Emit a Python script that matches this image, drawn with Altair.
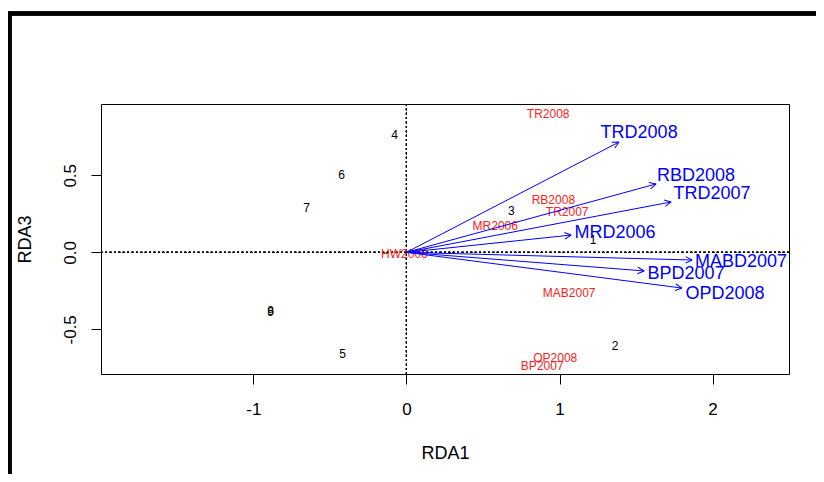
import math
import altair as alt
import pandas as pd

# ---- data ----
sites = ["1", "2", "3", "4", "5", "6", "7", "8", "9"]
site_x = [1.22, 1.363, 0.685, -0.078, -0.417, -0.424, -0.652, -0.887, -0.887]
site_y = [0.08, -0.61, 0.268, 0.762, -0.66, 0.50, 0.288, -0.38, -0.385]

species = ["TR2008", "RB2008", "TR2007", "MR2006", "HW2006", "MAB2007", "OP2008", "BP2007"]
species_x = [0.926, 0.96, 1.05, 0.58, -0.013, 1.063, 0.972, 0.887]
species_y = [0.896, 0.34, 0.264, 0.171, -0.011, -0.262, -0.684, -0.736]

env = ["TRD2008", "RBD2008", "TRD2007", "MRD2006", "MABD2007", "BPD2007", "OPD2008"]
env_x = [1.389, 1.631, 1.729, 1.076, 1.866, 1.553, 1.800]
env_y = [0.716, 0.444, 0.327, 0.112, -0.050, -0.121, -0.232]
env_label_x = [1.52, 1.892, 1.996, 1.363, 2.185, 1.827, 2.081]
env_label_y = [0.774, 0.495, 0.379, 0.125, -0.063, -0.141, -0.271]

x_ticks = [-1, 0, 1, 2]
y_ticks = [-0.5, 0.0, 0.5]
x_domain = [-1.995, 2.499]
y_domain = [-0.790, 0.963]

FONT = "Liberation Sans"
BLUE = "#0000FF"
RED = "#FF2020"

sites_df = pd.DataFrame({"label": sites, "x": site_x, "y": site_y})
species_df = pd.DataFrame({"label": species, "x": species_x, "y": species_y})
env_df = pd.DataFrame({
    "label": env, "x": env_x, "y": env_y,
    "lx": env_label_x, "ly": env_label_y,
    "x0": [0.0] * len(env), "y0": [0.0] * len(env),
})
env_df["angle"] = [(-math.degrees(math.atan2(b, a))) % 360 for a, b in zip(env_x, env_y)]

xs = alt.Scale(domain=x_domain, nice=False, zero=False)
ys = alt.Scale(domain=y_domain, nice=False, zero=False)

x_axis = alt.Axis(values=x_ticks, title="RDA1", labelExpr="replace(format(datum.value,'d'),'\u2212','-')",
                  grid=False, domain=False, tickSize=10, tickColor="black", labelPadding=17,
                  labelFontSize=17, labelFont=FONT, labelColor="black", labelBaseline="top",
                  titleFontSize=18, titleFont=FONT, titleFontWeight="normal", titleColor="black",
                  titlePadding=27)
y_axis = alt.Axis(values=y_ticks, title="RDA3", labelExpr="replace(format(datum.value,'.1f'),'\u2212','-')",
                  grid=False, domain=False, tickSize=10, tickColor="black", labelPadding=12,
                  labelAngle=270, labelAlign="center", labelBaseline="bottom",
                  labelFontSize=17, labelFont=FONT, labelColor="black",
                  titleFontSize=18, titleFont=FONT, titleFontWeight="normal", titleColor="black",
                  titlePadding=27)

base_points = alt.Chart(sites_df).mark_text(font=FONT, fontSize=12, color="black").encode(
    x=alt.X("x:Q", scale=xs, axis=x_axis),
    y=alt.Y("y:Q", scale=ys, axis=y_axis),
    text="label:N",
)

zero_v = alt.Chart(sites_df).mark_rule(color="black", strokeDash=[1.8, 2.6], strokeWidth=1).encode(
    x=alt.datum(0, scale=xs)
)
zero_h = alt.Chart(sites_df).mark_rule(color="black", strokeDash=[1.8, 2.6], strokeWidth=1).encode(
    y=alt.datum(0, scale=ys)
)

species_text = alt.Chart(species_df).mark_text(font=FONT, fontSize=12, color=RED).encode(
    x=alt.X("x:Q", scale=xs), y=alt.Y("y:Q", scale=ys), text="label:N"
)

arrows = alt.Chart(env_df).mark_rule(color=BLUE, strokeWidth=1).encode(
    x=alt.X("x0:Q", scale=xs), y=alt.Y("y0:Q", scale=ys),
    x2="x:Q", y2="y:Q",
)
heads = alt.Chart(env_df).mark_point(
    shape="M0,0L-1,-0.5M0,0L-1,0.5", filled=False, color=BLUE, size=170, strokeWidth=1, opacity=1
).encode(
    x=alt.X("x:Q", scale=xs), y=alt.Y("y:Q", scale=ys),
    angle=alt.Angle("angle:Q", scale=None),
)
env_text = alt.Chart(env_df).mark_text(font=FONT, fontSize=18, color=BLUE).encode(
    x=alt.X("lx:Q", scale=xs), y=alt.Y("ly:Q", scale=ys), text="label:N"
)

# outer window frame (decoration)
frame_left = alt.Chart(sites_df).mark_rule(color="black", strokeWidth=3.5).encode(
    x=alt.value(-91.5), y=alt.value(-92), y2=alt.value(400)
)
frame_top = alt.Chart(sites_df).mark_rule(color="black", strokeWidth=3.5).encode(
    x=alt.value(-93.5), x2=alt.value(740), y=alt.value(-90.5)
)

chart = alt.layer(
    zero_v, zero_h, base_points, species_text, arrows, heads, env_text, frame_left, frame_top
).properties(
    width=688, height=270,
    autosize=alt.AutoSizeParams(type="none"),
    padding={"left": 93, "top": 96, "right": 27, "bottom": 100},
    background="white",
).configure_view(stroke="black", strokeWidth=1)

chart.save("out.html", embed_options={"renderer": "svg", "actions": False})
